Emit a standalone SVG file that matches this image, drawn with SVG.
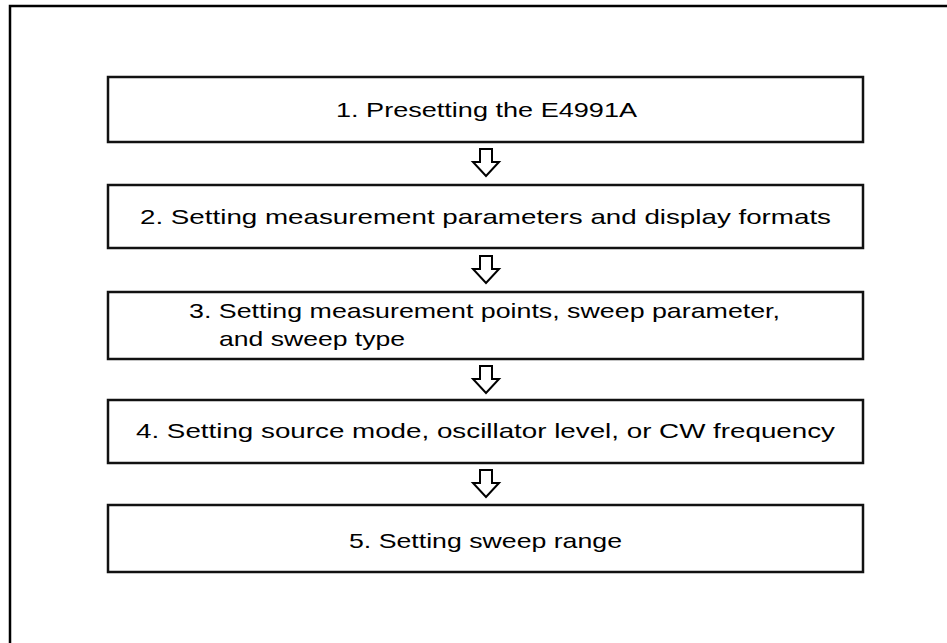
<svg xmlns="http://www.w3.org/2000/svg" width="947" height="643" viewBox="0 0 947 643">
<defs>
<style>
.frame{fill:none;stroke:#000;stroke-width:2.5}
.box{fill:#fff;stroke:#111;stroke-width:2.5}
.arrow{fill:#fff;stroke:#000;stroke-width:2;stroke-linejoin:miter}
.t{font-family:"Liberation Sans",Arial,sans-serif;font-size:21px;fill:#000}
</style>
<path id="arr" class="arrow" d="M-6,0 H6 V13 H13 L0,27 L-13,13 H-6 Z"/>
</defs>
<rect width="947" height="643" fill="#fff"/>
<path class="frame" d="M10,643 V6 H947"/>
<g id="node1">
<rect class="box" x="108" y="77" width="755" height="65"/>
<text class="t" x="336" y="117" textLength="301" lengthAdjust="spacingAndGlyphs">1. Presetting the E4991A</text>
</g>
<g id="node2">
<rect class="box" x="108" y="185" width="755" height="63"/>
<text class="t" x="140" y="224" textLength="691" lengthAdjust="spacingAndGlyphs">2. Setting measurement parameters and display formats</text>
</g>
<g id="node3">
<rect class="box" x="108" y="292" width="755" height="67"/>
<text class="t" x="189" y="318" textLength="591" lengthAdjust="spacingAndGlyphs">3. Setting measurement points, sweep parameter,</text>
<text class="t" x="219" y="346" textLength="186" lengthAdjust="spacingAndGlyphs">and sweep type</text>
</g>
<g id="node4">
<rect class="box" x="108" y="400" width="755" height="63"/>
<text class="t" x="136" y="438" textLength="699" lengthAdjust="spacingAndGlyphs">4. Setting source mode, oscillator level, or CW frequency</text>
</g>
<g id="node5">
<rect class="box" x="108" y="505" width="755" height="67"/>
<text class="t" x="349" y="548" textLength="273" lengthAdjust="spacingAndGlyphs">5. Setting sweep range</text>
</g>
<g id="connectors">
<use href="#arr" x="486" y="149"/>
<use href="#arr" x="486" y="256"/>
<use href="#arr" x="486" y="366"/>
<use href="#arr" x="486" y="470"/>
</g>
</svg>
